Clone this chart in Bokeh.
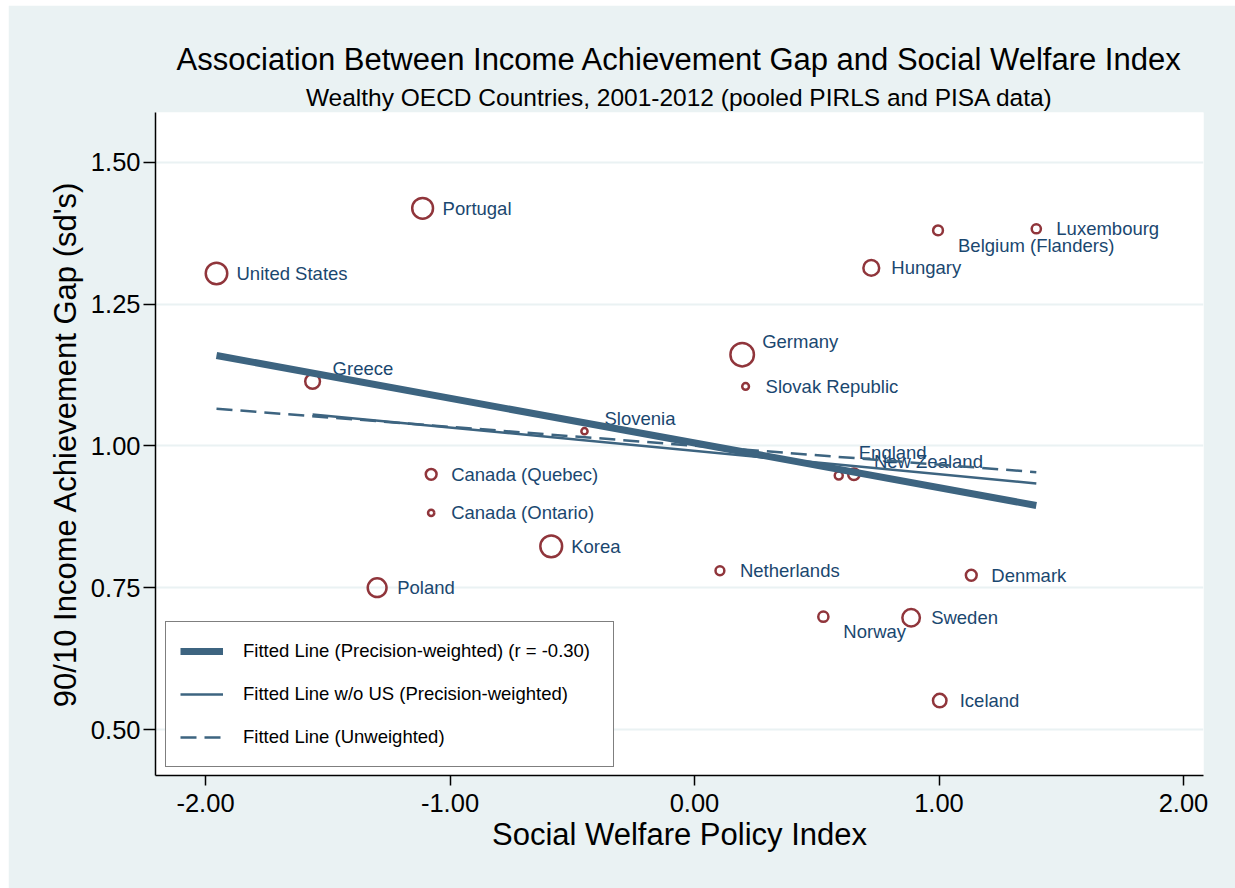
from bokeh.plotting import figure
from bokeh.models import (ColumnDataSource, Range1d, FixedTicker, NumeralTickFormatter,
                          Legend, LegendItem, Title)
from bokeh.core.properties import value
from bokeh.embed import file_html
from bokeh.resources import INLINE
import numpy as np

# ---- data -----------------------------------------------------------------
countries = ["United States", "Portugal", "Greece", "Germany", "Slovak Republic",
             "Slovenia", "England", "New Zealand", "Canada (Quebec)", "Canada (Ontario)",
             "Korea", "Poland", "Netherlands", "Denmark", "Norway", "Sweden",
             "Iceland", "Belgium (Flanders)", "Luxembourg", "Hungary"]
policy_index = [-1.955, -1.112, -1.562, 0.195, 0.209,
                -0.450, 0.590, 0.652, -1.077, -1.077,
                -0.586, -1.298, 0.104, 1.132, 0.527, 0.886,
                1.003, 0.996, 1.398, 0.723]
income_gap = [1.304, 1.419, 1.114, 1.161, 1.105,
              1.026, 0.948, 0.950, 0.950, 0.882,
              0.823, 0.750, 0.780, 0.772, 0.699, 0.697,
              0.551, 1.380, 1.383, 1.314]
precision_weight = [5.76, 5.43, 2.99, 6.76, 0.86,
                    0.76, 1.10, 1.96, 1.77, 0.76,
                    5.90, 4.54, 1.28, 1.77, 1.61, 4.00,
                    2.56, 1.51, 1.37, 3.35]
# marker-label clock positions (3 = right, 2 = upper right, 1 = high right, 4 = lower right)
label_clock = [3, 3, 2, 2, 3,
               2, 1, 2, 3, 3,
               3, 3, 3, 3, 4, 3,
               3, 4, 3, 3]

# fitted lines: (intercept, slope)
fit_weighted = (1.0053, -0.0789)
fit_no_us = (0.9914, -0.0411)
fit_unweighted = (1.0004, -0.03335)

x_ticks = [-2.0, -1.0, 0.0, 1.0, 2.0]
y_ticks = [0.50, 0.75, 1.00, 1.25, 1.50]

# ---- styling ----------------------------------------------------------------
BG = "#EAF2F3"
NAVY = "#1A476F"
MAROON = "#90353B"
LINE = "#3D6480"
FONT = "Liberation Sans"

clock_dx = {1: 20, 2: 20, 3: 20, 4: 20}
clock_dy = {1: -23, 2: -13, 3: 0, 4: 15}

pts = ColumnDataSource(dict(
    x=policy_index, y=income_gap, name=countries,
    size=[10 * np.sqrt(w) - 2.5 for w in precision_weight],
    dx=[clock_dx[c] for c in label_clock],
    dy=[clock_dy[c] for c in label_clock],
))

p = figure(width=1227, height=883, title=None,
           x_range=Range1d(-2.2045, 2.0818), y_range=Range1d(0.4189, 1.588),
           output_backend="svg", toolbar_location=None,
           min_border_left=147, min_border_right=32,
           min_border_top=107, min_border_bottom=113)
p.styles = {"margin-left": "8px", "margin-top": "5px"}

p.background_fill_color = "white"
p.border_fill_color = BG
p.outline_line_color = None

p.xgrid.visible = False
p.ygrid.grid_line_color = BG
p.ygrid.grid_line_width = 2
p.ygrid.ticker = FixedTicker(ticks=y_ticks)

for ax in (p.xaxis[0], p.yaxis[0]):
    ax.axis_line_color = "black"
    ax.axis_line_width = 1.5
    ax.major_tick_line_color = "black"
    ax.major_tick_line_width = 1.5
    ax.major_tick_in = 0
    ax.minor_tick_line_color = None
    ax.major_label_text_font = FONT
    ax.major_label_text_font_size = "25.5px"
    ax.major_label_text_color = "black"
    ax.axis_label_text_font = FONT
    ax.axis_label_text_font_size = "31px"
    ax.axis_label_text_font_style = "normal"
    ax.axis_label_text_color = "black"
    ax.formatter = NumeralTickFormatter(format="0.00")

p.xaxis.ticker = FixedTicker(ticks=x_ticks)
p.yaxis.ticker = FixedTicker(ticks=y_ticks)
p.xaxis.major_tick_out = 10
p.yaxis.major_tick_out = 12
p.xaxis.major_label_standoff = 8
p.yaxis.major_label_standoff = 3
p.xaxis.axis_label = "Social Welfare Policy Index"
p.yaxis.axis_label = "90/10 Income Achievement Gap (sd's)"
p.xaxis.axis_label_standoff = 2
p.yaxis.axis_label_standoff = 5

# markers sized by precision weight
p.scatter("x", "y", source=pts, size="size", marker="circle",
          fill_color=None, line_color=MAROON, line_width=2.5)
p.text("x", "y", text="name", source=pts, x_offset="dx", y_offset="dy",
       text_font=value(FONT), text_font_size="18.5px", text_color=NAVY,
       text_align="left", text_baseline="middle")

# fitted lines
x_all = np.array([min(policy_index), max(policy_index)])
x_no_us = np.array([min(v for c, v in zip(countries, policy_index) if c != "United States"),
                    max(policy_index)])

r_w = p.line(x_all, fit_weighted[0] + fit_weighted[1] * x_all,
             line_color=LINE, line_width=7)
r_nu = p.line(x_no_us, fit_no_us[0] + fit_no_us[1] * x_no_us,
              line_color=LINE, line_width=2.5)
r_u = p.line(x_all, fit_unweighted[0] + fit_unweighted[1] * x_all,
             line_color=LINE, line_width=2.5, line_dash="16 8")

legend = Legend(items=[
    LegendItem(label="Fitted Line (Precision-weighted) (r = -0.30)", renderers=[r_w]),
    LegendItem(label="Fitted Line w/o US (Precision-weighted)", renderers=[r_nu]),
    LegendItem(label="Fitted Line (Unweighted)", renderers=[r_u]),
], location=(10, 8), margin=0, padding=14, spacing=13,
    glyph_width=43, glyph_height=30, label_height=30, label_width=356,
    label_standoff=20, label_text_font=FONT, label_text_font_size="18.5px",
    label_text_color="black", border_line_color="black", border_line_width=1.5,
    background_fill_color="white", background_fill_alpha=1.0)
p.add_layout(legend, "center")

p.add_layout(Title(text="Wealthy OECD Countries, 2001-2012 (pooled PIRLS and PISA data)",
                   text_font=FONT, text_font_size="24.5px", text_font_style="normal",
                   text_color="black", align="center", standoff=4), "above")
p.add_layout(Title(text="Association Between Income Achievement Gap and Social Welfare Index",
                   text_font=FONT, text_font_size="31px", text_font_style="normal",
                   text_color="black", align="center", standoff=5), "above")

open("out.html", "w").write(file_html(p, INLINE))
